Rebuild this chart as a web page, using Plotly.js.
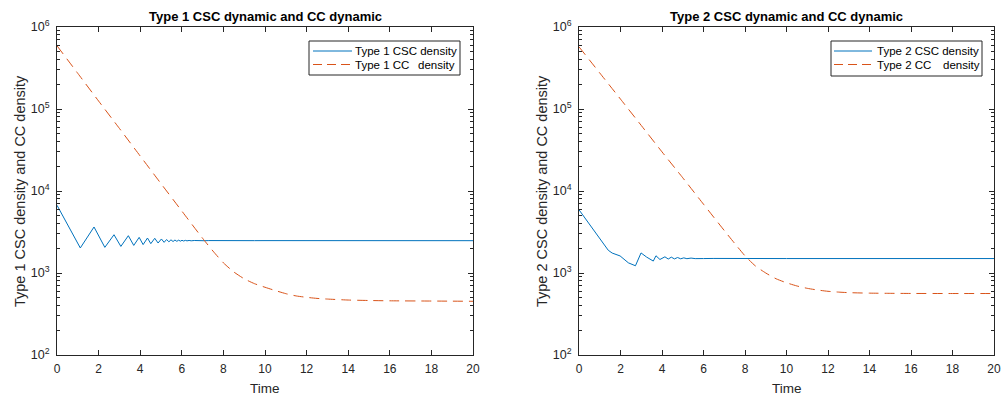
<!DOCTYPE html>
<html>
<head>
<meta charset="utf-8">
<script src="https://cdn.plot.ly/plotly-3.0.1.min.js"></script>
<style>html,body{margin:0;padding:0;background:#fff;}#chart{width:1002px;height:399px;}</style>
</head>
<body>
<div id="chart"></div>
<script>
// ---- Data ----
const t1csc = [0, 1.12, 1.78, 2.30, 2.74, 3.07, 3.43, 3.69, 3.95, 4.14, 4.35, 4.51, 4.70, 4.86, 5.02, 5.15, 5.27, 5.38, 5.48, 5.58, 5.67, 5.76, 5.85, 5.93, 6.01, 6.09, 6.17, 6.25, 6.35, 6.45, 6.6, 6.75, 6.9, 7.1, 7.3, 7.6, 8, 8.5, 9, 9.5, 10, 10.6, 12, 14, 16, 18, 20];
const csc1 = [6700, 2020, 3640, 2055, 2930, 2110, 2850, 2170, 2720, 2220, 2670, 2280, 2650, 2320, 2600, 2365, 2560, 2400, 2540, 2420, 2525, 2435, 2515, 2445, 2505, 2455, 2500, 2465, 2495, 2470, 2490, 2472, 2488, 2475, 2486, 2478, 2485, 2479, 2484, 2480, 2483, 2480, 2480, 2480, 2478, 2478, 2478];

const t1cc = [0, 1, 2, 3, 4, 5, 6, 7, 7.5, 8, 8.5, 9, 9.5, 10, 10.5, 11, 11.5, 12, 12.5, 13, 14, 15, 16, 18, 20];
const cc1 = [590000, 272000, 125000, 58000, 26700, 12300, 5700, 2650, 1850, 1330, 1030, 850, 740, 670, 610, 560, 525, 505, 490, 481, 468, 462, 458, 455, 452];

const t2csc = [0, 0.53, 1.01, 1.41, 1.6, 1.98, 2.38, 2.54, 2.72, 2.99, 3.26, 3.58, 3.71, 3.9, 4.14, 4.3, 4.45, 4.6, 4.75, 4.9, 5.05, 5.2, 5.4, 5.6, 5.8, 6, 6.5, 7, 8, 10, 12, 15, 20];
const csc2 = [5900, 3880, 2670, 1893, 1750, 1615, 1330, 1270, 1225, 1757, 1563, 1398, 1622, 1462, 1575, 1480, 1560, 1485, 1545, 1490, 1530, 1495, 1520, 1498, 1512, 1500, 1505, 1500, 1502, 1500, 1500, 1500, 1500];

const t2cc = [0, 1, 2, 3, 4, 5, 6, 7, 7.5, 8, 8.5, 9, 9.5, 10, 10.5, 11, 11.5, 12, 12.5, 13, 14, 15, 16, 18, 20];
const cc2 = [573000, 275000, 132000, 63000, 30000, 14500, 6900, 3300, 2300, 1620, 1220, 1000, 850, 760, 695, 650, 620, 598, 585, 576, 568, 565, 563, 562, 562];

const xTickVals = [0, 2, 4, 6, 8, 10, 12, 14, 16, 18, 20];
const yDecades = [2, 3, 4, 5, 6];
const legendMain1 = ['Type 1 CSC density', 'Type 1 CC'];
const legendMain2 = ['Type 2 CSC density', 'Type 2 CC'];
const legendTail = 'density';
const titles = ['Type 1 CSC dynamic and CC dynamic', 'Type 2 CSC dynamic and CC dynamic'];
const yTitles = ['Type 1 CSC density and CC density', 'Type 2 CSC density and CC density'];
const xTitle = 'Time';

// ---- Styling ----
const BLUE = '#0072BD', ORANGE = '#D95319', AX = '#262626';
const FONT = 'Liberation Sans, Arial, Helvetica, sans-serif';
const W = 1002, H = 399;
const px = v => v / W, py = v => 1 - v / H;
const DASH = '10px,6px';

const traces = [
  {x: t1csc, y: csc1, name: legendMain1[0], mode: 'lines', line: {color: BLUE, width: 1}, xaxis: 'x', yaxis: 'y'},
  {x: t1cc, y: cc1, name: legendMain1[1] + ' ' + legendTail, mode: 'lines', line: {color: ORANGE, width: 1, dash: DASH, shape: 'spline', smoothing: 0.6}, xaxis: 'x', yaxis: 'y'},
  {x: t2csc, y: csc2, name: legendMain2[0], mode: 'lines', line: {color: BLUE, width: 1}, xaxis: 'x2', yaxis: 'y2'},
  {x: t2cc, y: cc2, name: legendMain2[1] + ' ' + legendTail, mode: 'lines', line: {color: ORANGE, width: 1, dash: DASH, shape: 'spline', smoothing: 0.6}, xaxis: 'x2', yaxis: 'y2'}
];

// minor tick positions 2..9 within each decade
const minorVals = [];
yDecades.slice(0, -1).forEach(d => { for (let k = 2; k <= 9; k++) minorVals.push(k * Math.pow(10, d)); });

function xax(domain, anchor) {
  return {domain: domain, anchor: anchor, range: [0, 20], tickvals: xTickVals, ticks: 'inside', ticklen: 5,
    tickcolor: AX, showline: true, linecolor: AX, linewidth: 1, mirror: 'ticks', showgrid: false, zeroline: false,
    tickfont: {family: FONT, size: 12, color: AX}, ticklabelstandoff: 3, fixedrange: true};
}
function yax(anchor) {
  return {domain: [1 - 355 / H, 1 - 27 / H], anchor: anchor, type: 'log', range: [2, 6],
    tickvals: yDecades.map(d => Math.pow(10, d)), ticktext: yDecades.map(d => '10<sup>' + d + '</sup>'),
    ticks: 'inside', ticklen: 5, tickcolor: AX, showline: true, linecolor: AX, linewidth: 1, mirror: 'ticks',
    showgrid: false, zeroline: false, tickfont: {family: FONT, size: 12.5, color: AX}, ticklabelstandoff: 4,
    minor: {ticks: 'inside', ticklen: 3, tickcolor: AX, tickmode: 'array', tickvals: minorVals, showgrid: false}, fixedrange: true};
}

const ann = [];
const shapes = [];
const plots = [[57, 473], [579, 994]];
plots.forEach((d, i) => {
  const cx = (d[0] + d[1]) / 2;
  ann.push({text: '<b>' + titles[i] + '</b>', xref: 'paper', yref: 'paper', x: px(cx), y: py(17), xanchor: 'center', yanchor: 'middle',
    showarrow: false, font: {family: FONT, size: 13, color: '#000'}});
  ann.push({text: xTitle, xref: 'paper', yref: 'paper', x: px(cx), y: py(388), xanchor: 'center', yanchor: 'middle',
    showarrow: false, font: {family: FONT, size: 13.5, color: AX}});
  ann.push({text: yTitles[i], xref: 'paper', yref: 'paper', x: px(d[0] - 37), y: py(191), xanchor: 'center', yanchor: 'middle',
    textangle: -90, showarrow: false, font: {family: FONT, size: 14.5, color: AX}});
});

// Legend boxes (MATLAB-style, compact)
const legends = [
  {box: [309, 41, 460, 75], line: [313, 352], text: 354, tail: 417, main: legendMain1},
  {box: [831, 41, 982, 76], line: [834, 872], text: 876, tail: 942, main: legendMain2}
];
legends.forEach(L => {
  shapes.push({type: 'rect', xref: 'paper', yref: 'paper', x0: px(L.box[0]), x1: px(L.box[2]), y0: py(L.box[1]), y1: py(L.box[3]),
    line: {color: AX, width: 1}, fillcolor: '#fff', layer: 'above'});
  const rows = [51, 64.5];
  shapes.push({type: 'line', xref: 'paper', yref: 'paper', x0: px(L.line[0]), x1: px(L.line[1]), y0: py(rows[0]), y1: py(rows[0]),
    line: {color: BLUE, width: 1}, layer: 'above'});
  shapes.push({type: 'line', xref: 'paper', yref: 'paper', x0: px(L.line[0]), x1: px(L.line[1]), y0: py(rows[1]), y1: py(rows[1]),
    line: {color: ORANGE, width: 1, dash: '9px,5px'}, layer: 'above'});
  ann.push({text: L.main[0], xref: 'paper', yref: 'paper', x: px(L.text), y: py(rows[0]), xanchor: 'left', yanchor: 'middle',
    showarrow: false, font: {family: FONT, size: 11.5, color: '#000'}, borderpad: 0});
  ann.push({text: L.main[1], xref: 'paper', yref: 'paper', x: px(L.text), y: py(rows[1] + 0.5), xanchor: 'left', yanchor: 'middle',
    showarrow: false, font: {family: FONT, size: 11.5, color: '#000'}, borderpad: 0});
  ann.push({text: legendTail, xref: 'paper', yref: 'paper', x: px(L.tail), y: py(rows[1] + 0.5), xanchor: 'left', yanchor: 'middle',
    showarrow: false, font: {family: FONT, size: 11.5, color: '#000'}, borderpad: 0});
});

const layout = {
  width: W, height: H, margin: {l: 0, r: 0, t: 0, b: 0}, paper_bgcolor: '#fff', plot_bgcolor: '#fff',
  font: {family: FONT},
  xaxis: xax([57 / W, 473 / W], 'y'),
  yaxis: yax('x'),
  xaxis2: xax([579 / W, 994 / W], 'y2'),
  yaxis2: yax('x2'),
  annotations: ann,
  shapes: shapes,
  showlegend: false
};

Plotly.newPlot('chart', traces, layout, {displayModeBar: false, staticPlot: true});
</script>
</body>
</html>
